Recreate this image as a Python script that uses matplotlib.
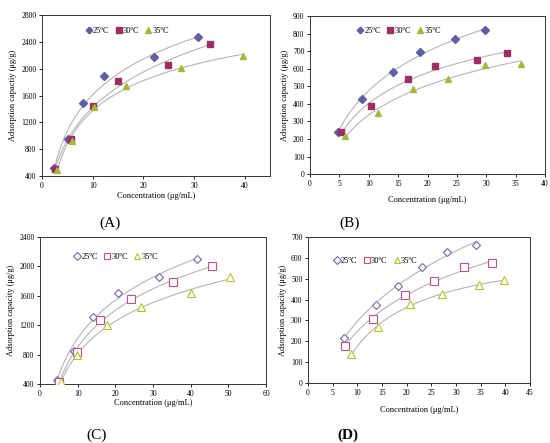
import numpy as np
import matplotlib
matplotlib.use("Agg")
import matplotlib.pyplot as plt

plt.rcParams["font.family"] = ["Liberation Serif", "DejaVu Serif"]

# ---- data (x = concentration ug/mL, y = adsorption ug/g)
temps = ["25ºC", "30ºC", "35ºC"]

a_x25 = [2.3, 5.2, 8.0, 12.3, 22.0, 30.8]
a_y25 = [512, 945, 1485, 1892, 2168, 2468]
a_x30 = [2.5, 5.7, 10.0, 15.0, 24.8, 33.1]
a_y30 = [505, 945, 1445, 1815, 2055, 2370]
a_x35 = [2.9, 6.0, 10.2, 16.6, 27.4, 39.7]
a_y35 = [492, 920, 1425, 1748, 2012, 2195]

b_x25 = [4.7, 8.9, 14.1, 18.7, 24.7, 29.7]
b_y25 = [240, 427, 582, 692, 767, 818]
b_x30 = [5.3, 10.4, 16.7, 21.3, 28.4, 33.5]
b_y30 = [237, 390, 540, 614, 652, 690]
b_x35 = [6.0, 11.5, 17.6, 23.5, 29.8, 35.9]
b_y35 = [217, 350, 486, 544, 620, 627]

c_x25 = [4.4, 8.9, 14.2, 20.7, 31.6, 41.8]
c_y25 = [459, 846, 1311, 1639, 1862, 2103]
c_x30 = [5.1, 9.7, 15.9, 24.1, 35.4, 45.7]
c_y30 = [432, 837, 1270, 1553, 1789, 2008]
c_x35 = [5.5, 9.8, 17.8, 26.7, 40.2, 50.5]
c_y35 = [423, 792, 1197, 1443, 1639, 1862]

d_x25 = [7.2, 13.8, 18.2, 23.1, 28.2, 34.0]
d_y25 = [215, 375, 465, 554, 627, 663]
d_x30 = [7.4, 13.2, 19.6, 25.5, 31.6, 37.3]
d_y30 = [177, 307, 420, 487, 555, 573]
d_x35 = [8.8, 14.2, 20.7, 27.2, 34.7, 39.8]
d_y35 = [137, 270, 380, 426, 468, 496]

FILLED = [("D", "#5f5fa6"), ("s", "#9b2f63"), ("^", "#a6b83a")]
OPEN = [("D", "#6b6bab"), ("s", "#c4508a"), ("^", "#a9c82a")]


def panel(ax, series, style, xlim, xstep, ylim, ystep, ylabel, leg_at, xlab_pad, open_marks):
    for (x, y), (mk, col), lab in zip(series, style, temps):
        x = np.asarray(x, float); y = np.asarray(y, float)
        # grey trend line fitted to the points
        coef = np.polyfit(np.log(x), y, 2)
        xs = np.linspace(x.min(), x.max(), 200)
        ax.plot(xs, np.polyval(coef, np.log(xs)), color="#b4b4b4", lw=0.8, zorder=1)
        ms = 4.2 if mk == "D" else 5.0
        if open_marks:
            ax.plot(x, y, mk, ms=ms + 0.3, mfc="white", mec=col, mew=0.8, label=lab, zorder=3)
        else:
            ax.plot(x, y, mk, ms=ms, color=col, label=lab, zorder=3)
    ax.set_xlim(*xlim); ax.set_ylim(*ylim)
    ax.set_xticks(np.arange(xlim[0], xlim[1] + 0.01 if xlim[1] % xstep == 0 else xlim[1], xstep))
    ax.set_yticks(np.arange(ylim[0], ylim[1] + 0.01, ystep))
    ax.tick_params(labelsize=5.5, length=2, width=0.6, direction="out", pad=2)
    for s in ax.spines.values():
        s.set_linewidth(0.7); s.set_color("#333333")
    ax.set_xlabel("Concentration (μg/mL)", fontsize=6, labelpad=xlab_pad)
    ax.set_ylabel(ylabel, fontsize=6, labelpad=3)
    ax.legend(loc="center left", bbox_to_anchor=leg_at, ncol=3, frameon=False, fontsize=6,
              markerscale=0.8, handletextpad=0.1, columnspacing=0.7, handlelength=0.8,
              borderpad=0, borderaxespad=0)


fig = plt.figure(figsize=(5.5, 4.43), dpi=100)
axA = fig.add_axes([0.0764, 0.6027, 0.4146, 0.3634])
axB = fig.add_axes([0.5636, 0.607, 0.4274, 0.357])
axC = fig.add_axes([0.0727, 0.1332, 0.4109, 0.3318])
axD = fig.add_axes([0.56, 0.1354, 0.4036, 0.3296])

panel(axA, [(a_x25, a_y25), (a_x30, a_y30), (a_x35, a_y35)], FILLED,
      (0, 45), 10, (400, 2800), 400, "Adsorption capactiy (μg/g)", (0.19, 0.9), 2, False)
panel(axB, [(b_x25, b_y25), (b_x30, b_y30), (b_x35, b_y35)], FILLED,
      (0, 40), 5, (0, 900), 100, "Adsorption capactiy (μg/g)", (0.2, 0.905), 6, False)
panel(axC, [(c_x25, c_y25), (c_x30, c_y30), (c_x35, c_y35)], OPEN,
      (0, 60), 10, (400, 2400), 400, "Adsorption capacity (μg/g)", (0.15, 0.864), 1, True)
panel(axD, [(d_x25, d_y25), (d_x30, d_y30), (d_x35, d_y35)], OPEN,
      (0, 45), 5, (0, 700), 100, "Adsorption capacity (μg/g)", (0.115, 0.836), 7, True)

for txt, x, y, w in [("(A)", 110, 223, "normal"), ("(B)", 350, 223, "normal"),
                     ("(C)", 97, 435, "normal"), ("(D)", 348, 435, "bold")]:
    fig.text(x / 550, 1 - y / 443, txt, fontsize=11, ha="center", va="center", fontweight=w)

fig.savefig("out.png", dpi=100)
